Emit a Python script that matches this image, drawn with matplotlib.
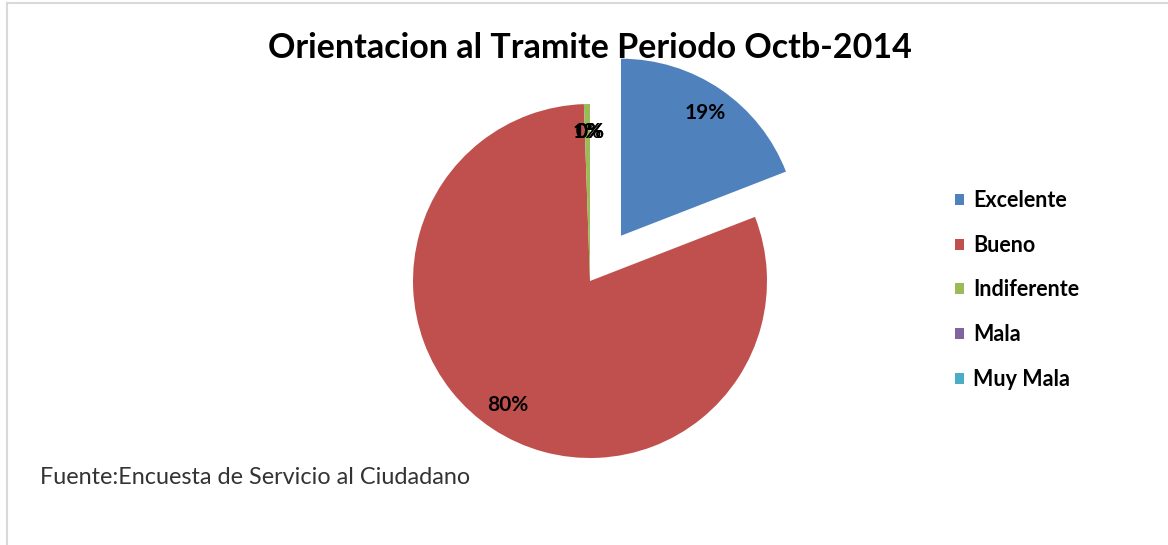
import matplotlib
matplotlib.use('Agg')
from matplotlib import pyplot as plt
from matplotlib.lines import Line2D

plt.rcParams['font.family'] = ['Lato', 'DejaVu Sans']

categorias = ["Excelente", "Bueno", "Indiferente", "Mala", "Muy Mala"]
porcentajes = [19.1, 80.35, 0.55, 0.0, 0.0]
separacion = [0.31, 0, 0, 0, 0]
colores = ["#4F81BD", "#C0504D", "#9BBB59", "#8064A2", "#4BACC6"]

titulo = "Orientacion al Tramite Periodo Octb-2014"
fuente = "Fuente:Encuesta de Servicio al Ciudadano"

W, H = 1168, 545
fig = plt.figure(figsize=(W / 100, H / 100), dpi=100)

# pie axes: centre (590, 281), radius 177 px
side = 177 * 2.5
ax = fig.add_axes([(590 - side / 2) / W, 1 - (281 + side / 2) / H, side / W, side / H])
wedges, texts, autotexts = ax.pie(
    porcentajes, explode=separacion, colors=colores, startangle=90,
    counterclock=False, autopct="%1.0f%%", pctdistance=0.84,
    textprops={"fontsize": 15, "fontweight": "bold", "color": "black"})

fig.text(590 / W, 1 - 48 / H, titulo, ha="center", va="center",
         fontsize=24.5, fontweight="bold")
fig.text(40 / W, 1 - 477 / H, fuente, ha="left", va="center",
         fontsize=16.8, color="#333333")

fig.legend(wedges, categorias, loc="center left",
           bbox_to_anchor=(955 / W, 1 - 290 / H), frameon=False,
           borderpad=0, borderaxespad=0, handlelength=0.4, handleheight=0.4,
           handletextpad=0.45, labelspacing=1.1,
           prop={"size": 15.5, "weight": "bold"})

# light frame (left and top edges visible)
fig.add_artist(Line2D([7 / W, 7 / W], [0, 1 - 2.5 / H], color="#d9d9d9", lw=1.5))
fig.add_artist(Line2D([7 / W, 1], [1 - 2.5 / H, 1 - 2.5 / H], color="#d9d9d9", lw=1.5))

fig.savefig("out.png", dpi=100)
